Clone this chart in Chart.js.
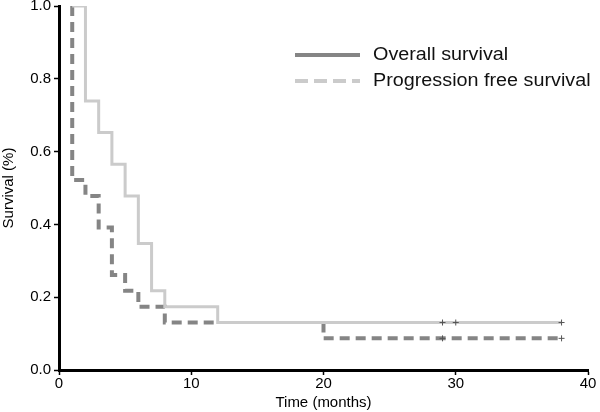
<!DOCTYPE html>
<html>
<head>
<meta charset="utf-8">
<script src="https://cdn.jsdelivr.net/npm/chart.js@4.4.1/dist/chart.umd.min.js"></script>
<style>
  html, body { margin: 0; padding: 0; background: #fff; }
  #wrap { width: 600px; height: 412px; position: relative; }
</style>
</head>
<body>
<div id="wrap"><canvas id="c" width="600" height="412"></canvas></div>
<script>
// Kaplan-Meier steps (n = 23)
const osTimes = [1, 2, 3, 4, 5, 6, 7, 8, 12, 38];
const osSurv  = [1, 17/23, 15/23, 13/23, 11/23, 8/23, 5/23, 4/23, 3/23, 3/23];
const pfsTimes = [1, 1, 2, 3, 4, 5, 6, 8, 12, 20, 20, 38];
const pfsSurv  = [1, 12/23, 11/23, 9/23, 6/23, 5/23, 4/23, 3/23, 3/23, 3/23, 2/23, 2/23];
const osCensorTimes = [29, 30, 38];
const osCensorSurv  = [3/23, 3/23, 3/23];
const pfsCensorTimes = [29, 38];
const pfsCensorSurv  = [2/23, 2/23];
const xTicks = [0, 10, 20, 30, 40];
const yTicks = [0, 0.2, 0.4, 0.6, 0.8, 1.0];
const legendLabels = ['Overall survival', 'Progression free survival'];

const FONT = '"Liberation Sans", Arial, Helvetica, sans-serif';
const toPts = (xs, ys) => xs.map((x, i) => ({x: x, y: ys[i]}));
const LIGHT = '#cbcbcb';
const DARK = '#858585';

const legendPlugin = {
  id: 'customLegend',
  afterDraw(chart) {
    const ctx = chart.ctx;
    ctx.save();
    ctx.lineWidth = 4;
    ctx.strokeStyle = DARK;
    ctx.setLineDash([]);
    ctx.beginPath(); ctx.moveTo(295, 55); ctx.lineTo(360, 55); ctx.stroke();
    ctx.strokeStyle = LIGHT;
    ctx.setLineDash([13, 6]);
    ctx.beginPath(); ctx.moveTo(295, 81); ctx.lineTo(360, 81); ctx.stroke();
    ctx.setLineDash([]);
    ctx.fillStyle = '#111';
    ctx.font = '17.5px ' + FONT;
    ctx.textBaseline = 'middle';
    ctx.textAlign = 'left';
    ctx.translate(373, 0);
    ctx.scale(1.13, 1);
    ctx.fillText(legendLabels[0], 0, 55);
    ctx.fillText(legendLabels[1], 0, 81);
    ctx.restore();
  }
};

// the PFS stretch that lies under the OS line (12..20 months) is hidden by it
const pfsSegColor = (c) => (c.p0.parsed.x >= 12 && c.p1.parsed.x <= 20 && c.p0.parsed.y === c.p1.parsed.y) ? 'rgba(0,0,0,0)' : undefined;

new Chart(document.getElementById('c'), {
  type: 'line',
  data: {
    datasets: [
      { label: 'OS', data: toPts(osTimes, osSurv), stepped: true, borderColor: LIGHT, borderWidth: 3, pointRadius: 0, fill: false, order: 1 },
      { label: 'PFS', data: toPts(pfsTimes, pfsSurv), stepped: true, borderColor: DARK, borderWidth: 4, borderDash: [10, 6], pointRadius: 0, fill: false, order: 2,
        segment: { borderColor: pfsSegColor } },
      { type: 'scatter', label: 'OS censored', data: toPts(osCensorTimes, osCensorSurv), pointStyle: 'cross', pointRadius: 3, borderColor: '#555', borderWidth: 1, showLine: false, order: 0 },
      { type: 'scatter', label: 'PFS censored', data: toPts(pfsCensorTimes, pfsCensorSurv), pointStyle: 'cross', pointRadius: 3, borderColor: '#555', borderWidth: 1, showLine: false, order: 0 }
    ]
  },
  options: {
    responsive: false,
    animation: false,
    layout: { padding: { top: 6, right: 12, left: 0, bottom: 0 } },
    plugins: { legend: { display: false }, tooltip: { enabled: false } },
    scales: {
      x: {
        type: 'linear', min: 0, max: 40,
        afterBuildTicks: (s) => { s.ticks = xTicks.map(v => ({value: v})); },
        afterFit: (s) => { s.height = 42; s.paddingLeft = 0; s.paddingRight = 0; },
        grid: { drawOnChartArea: false, drawTicks: true, tickLength: 5, tickColor: '#000', tickWidth: 1.5 },
        border: { display: true, color: '#000', width: 3 },
        ticks: { color: '#000', font: { family: FONT, size: 15 }, padding: 0, maxRotation: 0 },
        title: { display: true, text: 'Time (months)', color: '#000', font: { family: FONT, size: 15 }, padding: { top: 0, bottom: 0 } }
      },
      y: {
        type: 'linear', min: 0, max: 1,
        afterBuildTicks: (s) => { s.ticks = yTicks.map(v => ({value: v})); },
        afterFit: (s) => { s.width = 59; s.paddingTop = 0; s.paddingBottom = 0; },
        grid: { drawOnChartArea: false, drawTicks: true, tickLength: 5, tickColor: '#000', tickWidth: 1.5 },
        border: { display: true, color: '#000', width: 3 },
        ticks: { color: '#000', font: { family: FONT, size: 15 }, padding: 3, callback: (v) => Number(v).toFixed(1) },
        title: { display: true, text: 'Survival (%)', color: '#000', font: { family: FONT, size: 15 }, padding: { top: 0, bottom: 0 } }
      }
    }
  },
  plugins: [legendPlugin]
});
</script>
</body>
</html>
